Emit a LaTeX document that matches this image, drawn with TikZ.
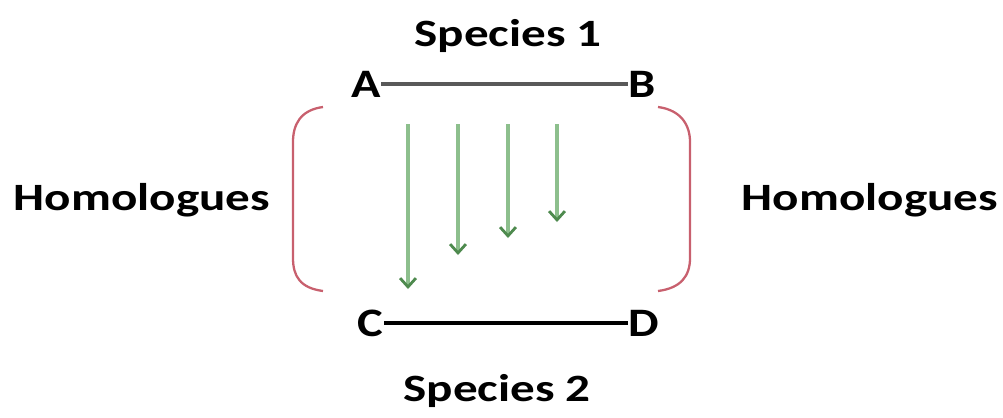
\documentclass[tikz,border=0pt]{standalone}
\usepackage{fontspec}
\setmainfont{Carlito}
\usetikzlibrary{arrows.meta}
\definecolor{arrgreen}{HTML}{8DBF8D}
\definecolor{tipgreen}{HTML}{4E8A4E}
\definecolor{brred}{HTML}{C8606E}
\newcommand{\wide}[2]{\scalebox{#1}[1]{#2}}
\tikzset{
  lbl/.style={font=\bfseries\fontsize{22}{26}\selectfont, inner sep=0pt},
  letter/.style={font=\bfseries\fontsize{23}{27}\selectfont, inner sep=0pt},
  hom/.style={draw=arrgreen, line width=2.2pt, -{Straight Barb[length=5pt,width=9pt,line width=1.6pt,color=tipgreen]}},
  brack/.style={draw=brred, line width=1.3pt},
}
\begin{document}
\begin{tikzpicture}[x=0.02cm,y=-0.02cm]
\useasboundingbox (0,0) rectangle (1003,417);
\node[lbl] (s1) at (508,36) {\wide{1.27}{Species 1}};
\node[lbl] (s2) at (497,391) {\wide{1.27}{Species 2}};
\node[letter, anchor=east] (A) at (381,84) {\wide{1.2}{A}};
\node[letter, anchor=west] (B) at (628,84) {\wide{1.2}{B}};
\node[letter, anchor=east] (C) at (384,323) {\wide{1.2}{C}};
\node[letter, anchor=west] (D) at (628,323) {\wide{1.2}{D}};
\draw[draw=black!65, line width=1.8pt] (A.east) -- (B.west);
\draw[draw=black, line width=2.2pt] (C.east) -- (D.west);
\node[lbl] (hl) at (142,200) {\wide{1.27}{Homologues}};
\node[lbl] (hr) at (870,200) {\wide{1.27}{Homologues}};
\coordinate (a1s) at (408,124); \coordinate (a1e) at (408,289);
\coordinate (a2s) at (458,124); \coordinate (a2e) at (458,255);
\coordinate (a3s) at (508,124); \coordinate (a3e) at (508,238);
\coordinate (a4s) at (557,124); \coordinate (a4e) at (557,222);
\draw[hom] (a1s) -- (a1e);
\draw[hom] (a2s) -- (a2e);
\draw[hom] (a3s) -- (a3e);
\draw[hom] (a4s) -- (a4e);
\draw[brack] (323,107) .. controls (300,110) and (293,125) .. (293,142) -- (293,258) .. controls (293,276) and (300,288) .. (323,291);
\draw[brack] (658,107) .. controls (681,110) and (690,125) .. (690,142) -- (690,258) .. controls (690,276) and (681,288) .. (658,291);
\end{tikzpicture}
\end{document}
